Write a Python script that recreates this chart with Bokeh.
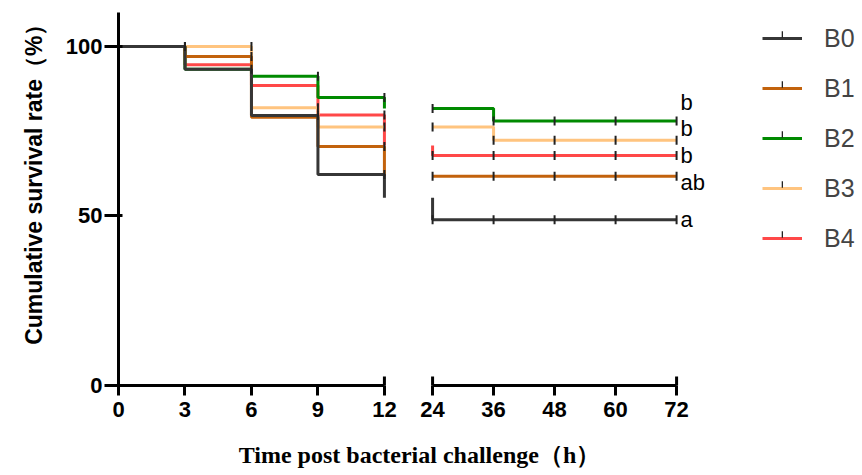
import numpy as np
from bokeh.plotting import figure
from bokeh.models import (Range1d, FixedTicker, Legend, LegendItem, Label,
                          ColumnDataSource, Title)
from bokeh.layouts import column, row
from bokeh.embed import file_html
from bokeh.resources import INLINE
from bokeh.core.properties import value

# ---------------- data ----------------
groups = ["B0", "B1", "B2", "B3", "B4"]
colors = ["#363636", "#c2620c", "#008a00", "#ffc47f", "#ff4848"]
letters = ["a", "ab", "b", "b", "b"]
letter_y = [49.1, 59.9, 83.5, 75.7, 67.8]

t_early = [0, 3, 6, 9, 12]
t_late = [24, 36, 72]
early_ticks = [0, 3, 6, 9, 12]
late_ticks = [24, 36, 48, 60, 72]
y_ticks = [0, 50, 100]

b0_early = [100, 93.3, 79.6, 62.2, 55.4]
b1_early = [100, 97.0, 79.1, 70.5, 61.7]
b2_early = [100, 93.3, 91.2, 84.9, 81.7]
b3_early = [100, 100, 81.9, 76.2, 76.2]
b4_early = [100, 94.6, 88.5, 79.8, 70.8]

b0_late = [48.9, 48.9, 48.9]
b1_late = [61.7, 61.7, 61.7]
b2_late = [81.7, 78.0, 78.0]
b3_late = [76.2, 72.3, 72.3]
b4_late = [67.8, 67.8, 67.8]

early = [b0_early, b1_early, b2_early, b3_early, b4_early]
late = [b0_late, b1_late, b2_late, b3_late, b4_late]

FONT = "Liberation Sans"
TICK = "#222222"

# ---------------- figures ----------------
common = dict(output_backend="svg", toolbar_location=None, height=430,
              y_range=Range1d(0, 110), min_border_top=12, min_border_bottom=45)

p1 = figure(width=407, x_range=Range1d(0, 12.5), min_border_left=118,
            min_border_right=12, **common)
p2 = figure(width=453, x_range=Range1d(23, 23 + 433 / (244 / 48)), min_border_left=20,
            min_border_right=0, y_axis_location=None, **common)

for p in (p1, p2):
    p.xgrid.visible = False
    p.ygrid.visible = False
    p.outline_line_color = None
    p.background_fill_color = None
    p.border_fill_color = None

axes = [p1.xaxis[0], p1.yaxis[0], p2.xaxis[0]]
for ax in axes:
    ax.axis_line_width = 3
    ax.axis_line_color = "black"
    ax.major_tick_line_width = 3
    ax.major_tick_line_color = "black"
    ax.major_tick_out = 10
    ax.major_tick_in = 0
    ax.minor_tick_line_color = None
    ax.major_label_text_font = FONT
    ax.major_label_text_font_style = "bold"
    ax.major_label_text_font_size = "22px"
    ax.major_label_text_color = "black"
    ax.major_label_standoff = 6

p1.xaxis[0].bounds = (t_early[0], t_early[-1])
p1.xaxis[0].ticker = FixedTicker(ticks=early_ticks)
p2.xaxis[0].bounds = (t_late[0], t_late[-1])
p2.xaxis[0].ticker = FixedTicker(ticks=late_ticks)

ya = p1.yaxis[0]
ya.ticker = FixedTicker(ticks=y_ticks)
ya.major_tick_out = 14
ya.major_tick_in = 4
ya.major_label_standoff = 2

p1.add_layout(Title(text="Cumulative survival rate（%）", align="right",
                    text_font=FONT, text_font_style="bold", text_font_size="23px",
                    text_color="black", standoff=32), "left")

# end caps of the broken x axis (upper half shows above the axis line)
p1.scatter(x=early_ticks[-1:], y=y_ticks[:1], marker="dash", angle=np.pi / 2,
           size=18, line_color="black", line_width=3)
p2.scatter(x=[late_ticks[0], late_ticks[-1]], y=y_ticks[:1] * 2, marker="dash",
           angle=np.pi / 2, size=18, line_color="black", line_width=3)

# ---------------- curves ----------------
line_r = {}
order = list(range(len(groups)))[::-1]  # draw B0 last (on top)
for i in order:
    g, c = groups[i], colors[i]
    e, l = early[i], late[i]
    # early part
    p1.step(x=t_early, y=e, mode="after", line_color=c, line_width=3)
    p1.scatter(x=t_early[1:], y=e[:-1], marker="dash", angle=np.pi / 2, size=9,
               line_color=TICK, line_width=2)
    # late part
    lx = [t_late[0]] + t_late
    ly = [e[-1]] + l
    r = p2.step(x=lx, y=ly, mode="after", line_color=c, line_width=3)
    idx = np.searchsorted(t_late, late_ticks, side="right") - 1
    cy = [l[k] for k in idx]
    p2.scatter(x=late_ticks, y=cy, marker="dash", angle=np.pi / 2, size=9,
               line_color=TICK, line_width=2)
    line_r[g] = r

src = ColumnDataSource(dict(x=[t_late[-1]] * len(groups), y=letter_y, t=letters))
p2.text(x="x", y="y", text="t", source=src, x_offset=4, text_align="left",
        text_baseline="middle", text_font=value(FONT), text_font_size="22px",
        text_color="black")

leg_style = dict(border_line_color=None, background_fill_alpha=0, padding=0, margin=0,
                 label_height=30, spacing=20, label_text_font=FONT,
                 label_text_font_size="25px")

items = [LegendItem(label=g, renderers=[line_r[g]]) for g in groups]
legend = Legend(items=items, location=(335, 132), glyph_width=40, glyph_height=14,
                label_standoff=22, **leg_style)
p2.add_layout(legend)

# small vertical tick drawn in the middle of each legend line (hidden proxy glyph)
tick_proxy = p2.vbar(x=late_ticks[:1], top=y_ticks[1:2], width=1,
                     fill_color=TICK, line_color=None)
tick_proxy.visible = False
tick_items = [LegendItem(label="", renderers=[tick_proxy]) for g in groups]
tick_legend = Legend(items=tick_items, location=(354, 136), glyph_width=2,
                     glyph_height=8, label_standoff=0, **leg_style)
p2.add_layout(tick_legend)

# ---------------- x title ----------------
p3 = figure(width=860, height=40, output_backend="svg", toolbar_location=None,
            x_axis_location=None, y_axis_location=None, min_border=0,
            x_range=Range1d(0, 1), y_range=Range1d(0, 1))
p3.outline_line_color = None
p3.xgrid.visible = False
p3.ygrid.visible = False
p3.add_layout(Label(x=419, y=16, x_units="screen", y_units="screen",
                    text="Time post bacterial challenge（h）",
                    text_font="Liberation Serif", text_font_style="bold",
                    text_font_size="24px", text_align="center",
                    text_baseline="alphabetic", text_color="black"))

layout = column(row(p1, p2), p3)
open("out.html", "w").write(file_html(layout, INLINE))
